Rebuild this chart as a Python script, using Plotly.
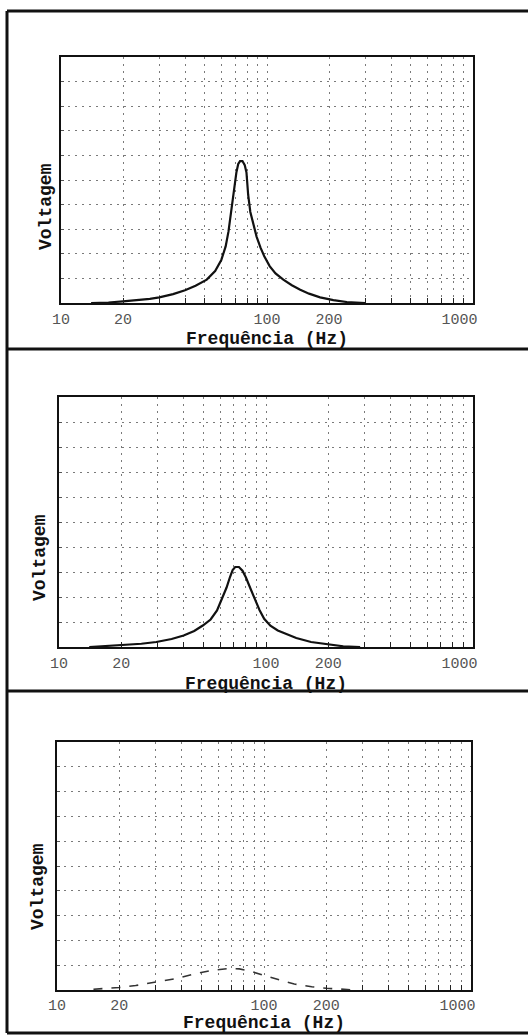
import numpy as np
import plotly.graph_objects as go

# ---------------- data ----------------
freq_1 = [14, 17, 20, 24, 27, 30, 35, 40, 45, 51, 56, 60, 63, 65, 67, 69, 71, 72.5, 74, 76, 78,
          79.5, 81, 83, 86, 89, 93, 97, 103, 110, 120, 132, 145, 160, 181, 200, 210, 244, 280, 300]
volt_1 = [0, 0.02, 0.07, 0.12, 0.17, 0.23, 0.36, 0.52, 0.7, 0.95, 1.3, 1.75, 2.3, 2.9, 3.7, 4.6, 5.3,
          5.65, 5.77, 5.77, 5.6, 5.3, 4.4, 3.7, 3.15, 2.7, 2.25, 1.9, 1.5, 1.2, 0.95, 0.72, 0.54, 0.38,
          0.23, 0.15, 0.12, 0.04, 0.01, 0]

freq_2 = [14, 20, 25, 29.5, 35, 40, 45, 49.5, 54, 58, 61, 64.5, 67, 69, 71, 74, 77, 80, 84, 89, 93,
          98, 105, 114, 124, 140, 165, 200, 236, 285]
volt_2 = [0, 0.07, 0.13, 0.2, 0.32, 0.46, 0.64, 0.86, 1.1, 1.46, 1.9, 2.38, 2.8, 3.08, 3.2, 3.2, 3.05,
          2.78, 2.35, 1.85, 1.48, 1.13, 0.85, 0.66, 0.53, 0.36, 0.2, 0.1, 0.03, 0]

freq_3 = [15, 20, 24, 28, 33, 38, 47, 57, 68, 76, 85, 98, 116, 140, 170, 200, 240, 275]
volt_3 = [0.03, 0.1, 0.18, 0.27, 0.37, 0.47, 0.67, 0.8, 0.87, 0.85, 0.77, 0.6, 0.43, 0.24, 0.13,
          0.07, 0.02, 0]

tick_vals = [10, 20, 30, 40, 50, 60, 70, 80, 90, 100, 200, 300, 400, 500, 600, 700, 800, 900, 1000]
tick_text = ["10", "20", "", "", "", "", "", "", "", "100", "200", "", "", "", "", "", "", "",
             "1000\u00a0\u00a0\u00a0"]
y_grid = [0, 1, 2, 3, 4, 5, 6, 7, 8, 9, 10]

x_title = "Frequência (Hz)"
y_title = "Voltagem"

# ---------------- layout helpers ----------------
W, H = 528, 1036
def px(x):
    return x / W
def py(y):
    return 1 - y / H

panels = [
    # (left, right, top, bottom, ylabel x, ylabel y, xlabel y, tick standoff)
    (61, 473, 57, 303, 46, 207, 339, 1),
    (59, 473, 397, 647, 40, 558, 684, 1),
    (57, 471, 742, 990, 38, 887, 1023, 0),
]
series = [(freq_1, volt_1, "solid", 2.2, "#111"),
          (freq_2, volt_2, "solid", 2.2, "#111"),
          (freq_3, volt_3, "dash", 1.6, "#333")]

fig = go.Figure()
mono = "Liberation Mono, Courier New, monospace"
annotations = []
for i, ((l, r, t, b, ylx, yly, xly, so), (f, v, dash, w, c)) in enumerate(zip(panels, series)):
    n = "" if i == 0 else str(i + 1)
    fig.add_trace(go.Scatter(x=f, y=v, mode="lines", xaxis="x" + n, yaxis="y" + n,
                             line=dict(color=c, width=w, dash=dash), showlegend=False,
                             hoverinfo="skip"))
    fig.layout["xaxis" + n] = dict(
        type="log", range=[1, 3], domain=[px(l), px(r)], anchor="y" + n, automargin=False,
        tickvals=tick_vals, ticktext=tick_text, ticks="inside", ticklen=5, tickwidth=1,
        tickcolor="#222", showgrid=True, gridcolor="#7a7a7a", griddash="2px,5px", gridwidth=1.2,
        showline=True, linecolor="#111", linewidth=2, mirror=True, zeroline=False,
        tickfont=dict(family=mono, size=15, color="#555"), ticklabelstandoff=so,
    )
    fig.layout["yaxis" + n] = dict(
        range=[0, 10], domain=[py(b), py(t)], anchor="x" + n, automargin=False,
        tickvals=y_grid, showticklabels=False, ticks="inside", ticklen=3, tickcolor="#555",
        showgrid=True, gridcolor="#7a7a7a", griddash="2px,5px", gridwidth=1.2,
        showline=True, linecolor="#111", linewidth=2, mirror=True, zeroline=False,
    )
    annotations.append(dict(text="<b>" + x_title + "</b>", x=px((l + r) / 2), y=py(xly),
                            xref="paper", yref="paper", showarrow=False,
                            xanchor="center", yanchor="middle",
                            font=dict(family=mono, size=18, color="#111")))
    annotations.append(dict(text="<b>" + y_title + "</b>", x=px(ylx), y=py(yly), textangle=-90,
                            xref="paper", yref="paper", showarrow=False,
                            xanchor="center", yanchor="middle",
                            font=dict(family=mono, size=18, color="#111")))

shapes = [
    dict(type="line", xref="paper", yref="paper", x0=px(7), x1=px(7), y0=py(11), y1=py(1033),
         line=dict(color="#111", width=3)),
]
for yy in [11, 349, 691, 1033]:
    shapes.append(dict(type="line", xref="paper", yref="paper", x0=px(7), x1=1, y0=py(yy), y1=py(yy),
                       line=dict(color="#111", width=3)))

fig.update_layout(width=W, height=H, margin=dict(l=0, r=0, t=0, b=0, autoexpand=False),
                  autosize=False, paper_bgcolor="white", plot_bgcolor="white",
                  annotations=annotations, shapes=shapes, hovermode=False)
fig.write_html("out.html", config={"responsive": False, "displayModeBar": False},
               post_script="document.body.style.margin='0';document.body.style.overflow='hidden';")
